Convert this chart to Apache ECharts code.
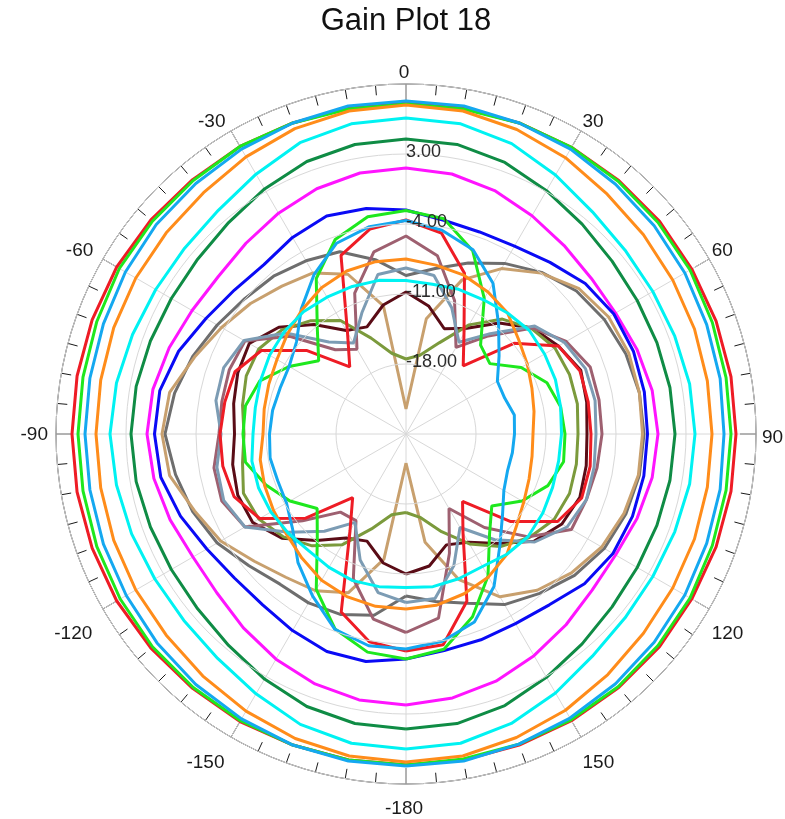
<!DOCTYPE html>
<html><head><meta charset="utf-8">
<script src="https://cdn.jsdelivr.net/npm/echarts@6/dist/echarts.min.js"></script>
<style>html,body{margin:0;padding:0;background:#fff}#c{width:785px;height:819px}</style>
</head><body><div id="c"></div>
<script>
const chartTitle = 'Gain Plot 18';
const angles = [-180,-170,-160,-150,-140,-130,-120,-110,-100,-90,-80,-70,-60,-50,-40,-30,-20,-10,0,10,20,30,40,50,60,70,80,90,100,110,120,130,140,150,160,170,180];
const angleTicks = [-180,-150,-120,-90,-60,-30,0,30,60,90,120,150];
const radiusTicks = [-25,-18,-11,-4,3,10];

const gainRedOuter = [8.1,8.1,8.1,8.2,8.2,8.3,8.4,8.4,8.4,8.4,8.4,8.4,8.4,8.3,8.2,8.2,8.1,8.1,8.1,8.1,8.1,8.1,8.1,8.1,8.0,8.0,8.0,8.0,8.0,8.0,8.0,8.1,8.1,8.1,8.1,8.1,8.1];
const gainLimeOuter = [8.1,8.1,8.1,8.1,8.1,8.1,8.0,7.9,7.8,7.8,7.8,7.9,8.1,8.1,8.1,8.2,8.1,8.0,8.0,8.0,8.1,8.1,8.0,7.9,7.8,7.6,7.5,7.5,7.5,7.6,7.8,7.9,8.0,8.0,8.0,8.0,8.1];
const gainSkyOuter = [8.2,8.2,8.1,7.9,7.7,7.5,7.3,7.2,7.1,7.1,7.1,7.2,7.4,7.6,7.7,7.9,8.1,8.3,8.3,8.3,8.1,7.9,7.6,7.4,7.2,7.0,6.9,6.8,6.9,7.0,7.2,7.4,7.6,7.8,8.0,8.2,8.2];
const gainOrangeOuter = [7.8,7.7,7.4,7.0,6.6,6.3,6.2,6.1,6.0,6.0,6.0,6.1,6.2,6.3,6.5,7.0,7.5,7.8,7.9,7.8,7.4,6.9,6.3,6.0,5.8,5.7,5.6,5.6,5.6,5.7,5.8,6.0,6.4,6.9,7.3,7.7,7.8];
const gainCyanOuter = [6.5,6.4,5.9,5.0,4.3,4.0,4.0,4.2,4.4,4.6,4.4,4.1,3.9,3.9,4.2,5.0,6.0,6.5,6.6,6.5,5.9,4.9,4.0,3.6,3.5,3.6,3.8,3.9,3.8,3.6,3.5,3.6,4.0,4.9,5.8,6.4,6.5];
const gainDarkGreen = [4.5,4.4,4.0,3.3,2.6,2.2,2.1,2.2,2.4,2.5,2.4,2.2,2.1,2.2,2.6,3.3,4.0,4.4,4.5,4.4,3.9,3.1,2.4,1.9,1.7,1.7,1.8,1.9,1.8,1.7,1.7,1.9,2.4,3.1,3.9,4.4,4.5];
const gainMagenta = [2.1,2.0,1.6,1.0,0.3,-0.3,-0.4,0.1,0.6,0.9,0.7,0.2,-0.3,-0.5,-0.1,0.5,1.1,1.5,1.6,1.4,0.9,0.2,-0.4,-0.8,-0.8,-0.4,0.0,0.2,0.0,-0.4,-0.8,-0.7,-0.1,0.6,1.3,1.8,2.1];
const gainBlue = [-2.5,-1.9,-1.85,-2.3,-2.7,-2.6,-2.0,-1.0,-0.1,0.15,0.0,-0.8,-1.9,-2.6,-2.9,-2.3,-1.8,-2.1,-2.6,-3.3,-3.5,-3.3,-2.6,-1.6,-1.0,-0.8,-0.8,-0.85,-0.85,-0.9,-1.1,-1.7,-2.7,-3.1,-3.1,-3.0,-2.5];
const gainGray = [-8.8,-6.6,-5.8,-5.5,-5.4,-4.5,-3.2,-2.3,-1.6,-0.9,-1.5,-2.3,-3.2,-3.95,-4.4,-5.0,-5.6,-7.3,-9.15,-8.2,-6.8,-5.3,-3.9,-2.75,-2.1,-1.6,-1.3,-1.2,-1.3,-1.6,-2.1,-3.0,-4.2,-5.3,-7.0,-8.0,-8.8];
const gainTan = [-22.1,-12.3,-8.1,-6.9,-6.3,-5.2,-3.6,-2.5,-1.0,-0.6,-1.0,-2.5,-3.7,-4.7,-5.7,-6.4,-8.0,-12.0,-22.5,-13.3,-8.6,-5.9,-4.0,-2.4,-1.6,-1.3,-1.3,-1.35,-1.4,-1.8,-2.4,-3.4,-4.6,-6.2,-9.5,-14.0,-22.1];
const gainMaroon = [-11.0,-11.9,-13.6,-13.0,-11.1,-8.8,-7.3,-7.1,-7.4,-7.85,-7.5,-7.1,-6.9,-8.4,-10.7,-13.05,-13.6,-11.9,-10.8,-12.0,-13.8,-12.8,-10.5,-8.5,-7.4,-6.4,-6.65,-6.9,-6.7,-6.5,-7.0,-8.3,-10.7,-12.5,-13.2,-11.6,-11.0];
const gainOlive = [-17.15,-16.8,-14.9,-12.2,-10.4,-9.0,-8.0,-7.7,-8.4,-8.8,-8.4,-8.0,-8.0,-8.8,-10.2,-11.9,-14.8,-16.8,-17.5,-17.0,-15.3,-12.4,-10.0,-8.6,-7.8,-7.6,-7.6,-7.8,-7.7,-7.6,-7.9,-8.9,-10.3,-12.3,-14.6,-16.5,-17.15];
const gainMauve = [-5.15,-6.2,-9.6,-15.0,-14.8,-11.5,-6.4,-5.4,-5.5,-6.3,-6.3,-6.2,-6.4,-9.8,-14.0,-15.2,-10.0,-6.5,-5.2,-6.9,-10.8,-15.0,-12.2,-8.5,-6.5,-5.4,-5.4,-5.4,-5.6,-5.8,-5.9,-9.0,-12.8,-16.4,-12.3,-6.3,-5.15];
const gainSlate = [-8.15,-8.9,-11.6,-14.8,-12.3,-9.7,-6.4,-5.6,-5.8,-6.5,-5.7,-5.6,-6.3,-9.3,-13.0,-14.5,-12.1,-8.8,-8.4,-8.9,-11.6,-14.4,-11.9,-8.2,-6.7,-5.9,-5.8,-6.0,-5.9,-5.8,-6.4,-8.2,-11.2,-14.2,-11.0,-8.3,-8.15];
const gainRedInner = [-3.3,-3.9,-6.05,-13.8,-16.7,-11.9,-8.1,-6.7,-6.4,-6.4,-6.6,-6.8,-8.3,-12.0,-16.25,-13.3,-6.0,-4.2,-3.6,-4.6,-7.9,-13.4,-16.1,-10.9,-7.4,-6.5,-6.5,-6.5,-6.3,-6.3,-7.5,-11.4,-16.2,-13.6,-7.2,-3.6,-3.3];
const gainLimeInner = [-2.5,-2.85,-4.25,-7.05,-11.2,-13.4,-11.6,-10.1,-8.7,-8.7,-8.7,-9.45,-11.5,-13.6,-11.2,-7.05,-4.3,-2.95,-2.65,-3.15,-5.5,-9.35,-13.4,-14.05,-11.7,-10.0,-9.3,-9.1,-9.0,-9.9,-11.6,-13.8,-12.0,-8.6,-5.55,-3.15,-2.5];
const gainSkyInner = [-3.5,-3.5,-4.2,-6.3,-8.2,-10.2,-11.2,-11.35,-11.2,-11.35,-11.45,-11.6,-11.5,-10.7,-8.7,-6.6,-4.7,-3.95,-3.65,-4.3,-5.4,-7.6,-10.6,-12.85,-14.45,-14.5,-14.0,-14.15,-14.2,-14.2,-13.7,-12.4,-10.4,-7.4,-5.0,-3.95,-3.5];
const gainOrangeInner = [-7.5,-7.5,-7.7,-8.1,-8.8,-9.4,-9.7,-9.95,-10.2,-10.7,-10.6,-10.4,-10.1,-9.5,-8.8,-8.1,-7.65,-7.5,-7.5,-7.85,-8.1,-8.6,-9.2,-10.3,-11.0,-11.6,-12.0,-12.3,-12.2,-11.9,-11.4,-10.6,-9.3,-8.5,-8.0,-7.6,-7.5];
const gainCyanInner = [-9.65,-9.5,-9.4,-9.6,-9.8,-9.6,-9.4,-9.3,-9.35,-9.7,-9.7,-9.5,-9.25,-9.1,-9.05,-9.2,-9.3,-9.4,-9.65,-9.8,-9.6,-9.5,-9.2,-8.9,-9.0,-9.1,-9.3,-9.45,-9.5,-9.4,-9.2,-9.05,-9.3,-9.7,-9.6,-9.5,-9.65];

const seriesValues = [gainRedOuter,gainLimeOuter,gainSkyOuter,gainOrangeOuter,gainCyanOuter,gainDarkGreen,gainMagenta,gainBlue,gainGray,gainTan,gainMaroon,gainOlive,gainMauve,gainSlate,gainRedInner,gainLimeInner,gainSkyInner,gainOrangeInner,gainCyanInner];
const seriesColors = ['#ee1c25','#1ee81e','#14a8f0','#ff8c1a','#00f2f2','#0f8c45','#ff14ff','#0a0af5','#6e6e6e','#c8a06e','#5a0c16','#7b9a3c','#9e6070','#7c9cb4','#ee1c25','#1ee81e','#14a8f0','#ff8c1a','#00f2f2'];

const chart = echarts.init(document.getElementById('c'), null, {renderer:'canvas'});
const toPlotAngle = a => (a < 0 ? a + 360 : a);
const FONT = 'Liberation Sans, Arial, sans-serif';

// per-label style key for angle labels (placement fine-tuning)
const labelStyleKey = {'0':'c0','30':'t','60':'t','90':'m','120':'b','150':'b','-180':'c180','-150':'nb5','-120':'nb8','-90':'nm5','-60':'nt7','-30':'nt4'};
const LS = {fontSize: 19, color: '#1a1a1a', fontFamily: FONT};
const angleRich = {
  c0:   Object.assign({lineHeight: 16, padding: [0, 4, 0, 0]}, LS),
  c180: Object.assign({lineHeight: 43, padding: [0, 4, 0, 0]}, LS),
  t:    Object.assign({lineHeight: 14}, LS),
  b:    Object.assign({lineHeight: 46}, LS),
  m:    Object.assign({lineHeight: 20, padding: [7, 0, 0, 3]}, LS),
  nm5:  Object.assign({lineHeight: 20, padding: [2, 5, 0, 0]}, LS),
  nt4:  Object.assign({lineHeight: 14, padding: [0, 4, 0, 0]}, LS),
  nt7:  Object.assign({lineHeight: 14, padding: [0, 7, 0, 0]}, LS),
  nb5:  Object.assign({lineHeight: 46, padding: [0, 5, 0, 0]}, LS),
  nb8:  Object.assign({lineHeight: 46, padding: [0, 8, 0, 0]}, LS)
};

const series = seriesValues.map((vals, i) => ({
  type: 'line',
  coordinateSystem: 'polar',
  showSymbol: false,
  symbol: 'none',
  smooth: false,
  clip: false,
  animation: false,
  lineStyle: {color: seriesColors[i], width: 3},
  itemStyle: {color: seriesColors[i]},
  data: angles.map((a, k) => [vals[k], toPlotAngle(a)])
}));

chart.setOption({
  backgroundColor: '#ffffff',
  animation: false,
  title: {
    text: chartTitle, left: 401, top: 1, textAlign: 'center',
    textStyle: {fontFamily: FONT, fontSize: 31, fontWeight: 'normal', color: '#111'}
  },
  polar: {center: [406, 434], radius: 350},
  angleAxis: {
    type: 'value', min: 0, max: 360, interval: 30, startAngle: 90, clockwise: true,
    axisLine: {show: true, lineStyle: {color: '#1a1a1a', width: 1}},
    axisTick: {show: true, inside: true, length: 16, lineStyle: {color: '#1a1a1a', width: 1}},
    minorTick: {show: true, splitNumber: 6, length: 10, lineStyle: {color: '#1a1a1a', width: 1}},
    splitLine: {show: true, lineStyle: {color: '#d8d8d8', width: 1}},
    axisLabel: {
      margin: 3, fontSize: 19, color: '#1a1a1a', fontFamily: FONT,
      rich: angleRich,
      formatter: v => {
        if (v === 360) return '';
        const a = v > 180 ? v - 360 : (v === 180 ? -180 : v);
        if (angleTicks.indexOf(a) < 0) return '';
        return '{' + labelStyleKey[String(a)] + '|' + a + '}';
      }
    }
  },
  radiusAxis: {
    type: 'value', min: radiusTicks[0], max: radiusTicks[radiusTicks.length - 1], interval: 7,
    axisLine: {show: false}, axisTick: {show: false},
    splitLine: {show: true, lineStyle: {color: '#d8d8d8', width: 1}},
    axisLabel: {
      show: true, fontSize: 18, color: '#2a2a2a', fontFamily: FONT,
      align: 'left', verticalAlign: 'bottom', lineHeight: 4, margin: 0,
      formatter: v => (v === radiusTicks[0] || v === radiusTicks[radiusTicks.length - 1]) ? '' : v.toFixed(2)
    },
    z: 10
  },
  series: series
});
</script>
</body></html>
